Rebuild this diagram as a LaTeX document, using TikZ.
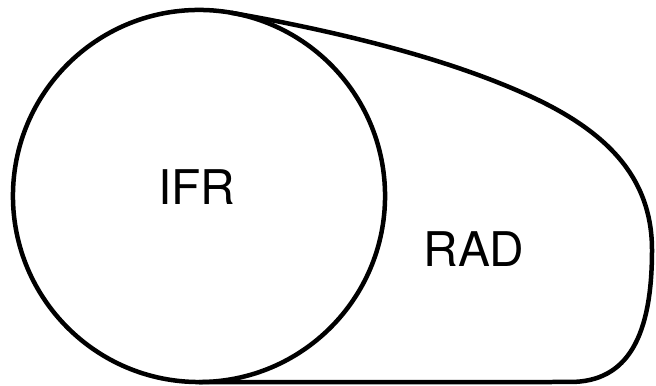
\documentclass[tikz,border=0pt]{standalone}
\usepackage{fontspec}
\setmainfont{TeX Gyre Heros}
\usetikzlibrary{positioning}

\begin{document}
\begin{tikzpicture}[x=0.025cm,y=0.025cm,line width=3.2pt,
  lbl/.style={font=\fontsize{34}{40}\selectfont,inner sep=0pt}]
\useasboundingbox (0,0) rectangle (656,386);
\node[circle,draw,outer sep=0pt,inner sep=0pt,minimum size=9.3cm] (ifr) at (199,190) {};
\node[lbl] (ifrlbl) at (197,199) {IFR};
\node[lbl] (radlbl) at (474,136.5) {RAD};
\draw[line join=round] (ifr.80) .. controls (330,356) and (440,330) .. (523,293)
  .. controls (605,257) and (652,210) .. (652,136)
  .. controls (652,50) and (628,4) .. (570,4) -- (ifr.south);
\end{tikzpicture}
\end{document}
